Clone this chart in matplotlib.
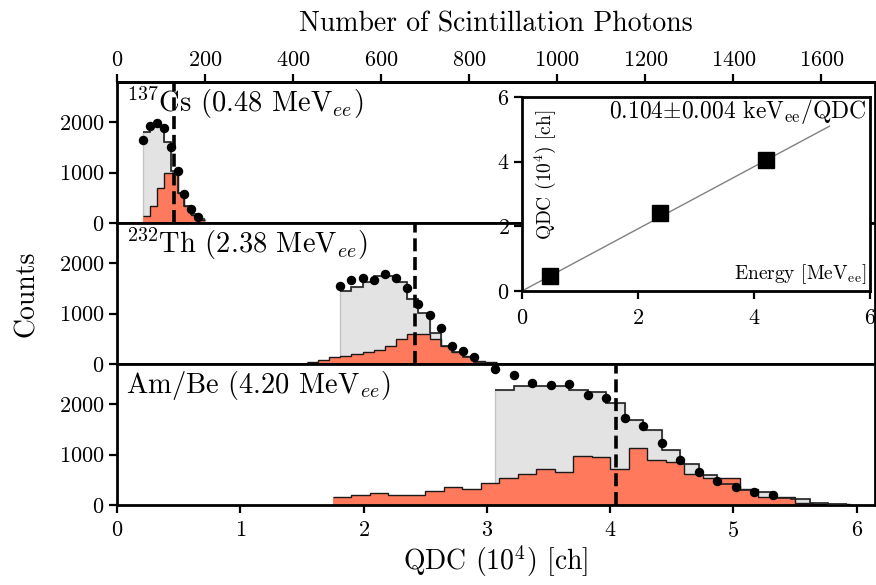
import matplotlib
matplotlib.use('Agg')
import matplotlib.pyplot as plt
import numpy as np

plt.rcParams['font.family'] = 'serif'
plt.rcParams['font.serif'] = ['cmr10']
plt.rcParams['mathtext.fontset'] = 'cm'
plt.rcParams['axes.formatter.use_mathtext'] = True
plt.rcParams['axes.unicode_minus'] = False

### Data (QDC in units of 10^4 ch)

# Cs-137
cs_edges = np.array([0.211, 0.267, 0.323, 0.379, 0.435, 0.491, 0.547, 0.603, 0.659, 0.715])
cs_sim = [1800, 1930, 1900, 1600, 1030, 600, 340, 170, 70]
cs_comp = [133, 333, 700, 1000, 1000, 600, 330, 167, 67]
cs_data = [1647, 1920, 1980, 1880, 1513, 1033, 567, 287, 113]
cs_edge = 0.46

# Th-232
th_edges = np.round(1.54 + 0.0905 * np.arange(18), 4)
th_sim = [1447, 1520, 1633, 1753, 1753, 1633, 1300, 1020, 620, 367, 233, 133, 47]
th_comp = [47, 87, 133, 167, 200, 233, 287, 367, 500, 600, 587, 487, 353, 233, 167, 67, 33]
th_data = [1553, 1667, 1700, 1667, 1787, 1713, 1513, 1187, 967, 713, 367, 267, 133]
th_edge = 2.42

# Am/Be
ambe_comp_edges = np.round(1.75 + 0.15 * np.arange(29), 3)
ambe_comp = [162, 202, 229, 202, 202, 283, 364, 323, 445, 539, 606, 721, 647, 976,
             956, 721, 1125, 889, 855, 620, 539, 539, 317, 162, 162, 47, 27, 15]
ambe_sim_edges = np.round(3.07 + 0.15 * np.arange(20), 3)
ambe_sim = [2290, 2357, 2370, 2370, 2290, 2250, 2034, 1697, 1481, 1091, 822, 586,
            420, 300, 250, 148, 120, 45, 25]
ambe_data = [2693, 2572, 2424, 2384, 2398, 2182, 2121, 1731, 1562, 1239, 903, 653,
             485, 350, 263, 202]
ambe_edge = 4.05

# calibration inset
cal_energy = [0.48, 2.38, 4.20]
cal_qdc = [0.46, 2.42, 4.04]
cal_kev_per_qdc = 0.104
photons_per_qdc = 280.0

labels = [r'$^{137}$Cs (0.48 MeV$_{ee}$)',
          r'$^{232}$Th (2.38 MeV$_{ee}$)',
          r'Am/Be (4.20 MeV$_{ee}$)']

### Figure

fig = plt.figure(figsize=(8.76, 5.85), dpi=100)
gs = fig.add_gridspec(3, 1, left=0.1336, right=0.999, top=0.8598, bottom=0.1368, hspace=0)
axes = [fig.add_subplot(gs[i]) for i in range(3)]

panels = [
    (cs_edges, cs_sim, cs_edges, cs_comp, cs_data, cs_edge),
    (th_edges[3:17], th_sim, th_edges, th_comp, th_data, th_edge),
    (ambe_sim_edges, ambe_sim, ambe_comp_edges, ambe_comp, ambe_data, ambe_edge),
]

for ax, (s_edges, sim, c_edges, comp, data, edge), lab in zip(axes, panels, labels):
    ax.stairs(sim, s_edges, fill=True, facecolor='#e3e3e3', edgecolor='#c4c4c4', lw=1, zorder=1)
    ax.stairs(comp, c_edges, fill=True, facecolor='#ff7a5c', zorder=2)
    ax.stairs(comp, c_edges, baseline=None, color='#1a1a1a', lw=1.0, zorder=2.5)
    ax.stairs(sim, s_edges, baseline=None, color='#222222', lw=1.2, zorder=3)
    ax.plot(s_edges[:len(data)], data, 'o', color='k', ms=5.8, zorder=4)
    ax.axvline(edge, color='k', lw=2.6, ls=(0, (3.6, 1.6)), zorder=5)
    ax.text(0.012, 0.85, lab, transform=ax.transAxes, fontsize=20.5, va='center', ha='left')

    ax.set_xlim(0, 6.15)
    ax.set_ylim(0, 2800)
    ax.set_yticks([0, 1000, 2000])
    ax.tick_params(axis='both', direction='out', length=5.5, width=1.6, labelsize=16)
    ax.tick_params(axis='x', pad=6)
    for sp in ax.spines.values():
        sp.set_linewidth(2)

for ax in axes[:2]:
    ax.tick_params(axis='x', bottom=False, labelbottom=False)

axes[2].set_xticks([0, 1, 2, 3, 4, 5, 6])
axes[2].set_xlabel(r'QDC (10$^4$) [ch]', fontsize=20, labelpad=2)
axes[1].set_ylabel('Counts', fontsize=20, labelpad=14)

# photon axis on top
top = axes[0].secondary_xaxis('top', functions=(lambda q: q * photons_per_qdc,
                                                lambda p: p / photons_per_qdc))
top.set_xticks(np.arange(0, 1601, 200))
top.tick_params(direction='out', length=5.5, width=1.6, labelsize=16)
top.spines['top'].set_linewidth(2)
top.set_xlabel('Number of Scintillation Photons', fontsize=20, labelpad=13)

### Inset calibration

ins = fig.add_axes([0.5959, 0.5026, 0.3973, 0.3316], zorder=10)
ins.set_facecolor('white')
xl = np.array([0, 5.3])
ins.plot(xl, xl / (cal_kev_per_qdc * 10), color='grey', lw=1, zorder=2)
ins.plot(cal_energy, cal_qdc, 's', color='k', ms=11, zorder=3)
ins.set_xlim(0, 6)
ins.set_ylim(0, 6)
ins.set_xticks([0, 2, 4, 6])
ins.set_yticks([0, 2, 4, 6])
ins.tick_params(direction='out', length=5.5, width=1.6, labelsize=16)
ins.tick_params(axis='x', pad=7)
for sp in ins.spines.values():
    sp.set_linewidth(2)
ins.text(0.99, 0.925, r'0.104$\pm$0.004 keV$_{\rm ee}$/QDC', transform=ins.transAxes,
         ha='right', va='center', fontsize=17)
ins.text(0.99, 0.085, r'Energy [MeV$_{\rm ee}$]', transform=ins.transAxes,
         ha='right', va='center', fontsize=14)
ins.text(0.066, 0.6, r'QDC (10$^4$) [ch]', transform=ins.transAxes, rotation=90,
         ha='center', va='center', fontsize=14)

fig.savefig('out.png', dpi=100)
plt.close(fig)
